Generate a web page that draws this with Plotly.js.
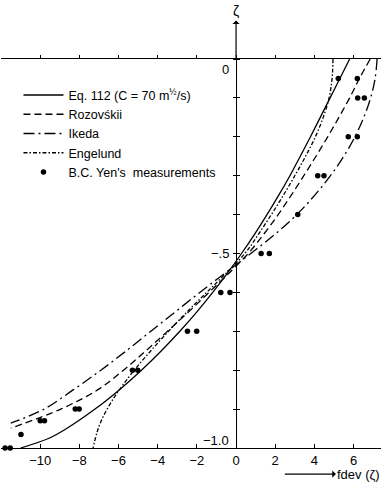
<!DOCTYPE html>
<html>
<head>
<meta charset="utf-8">
<script src="https://cdn.plot.ly/plotly-3.0.1.min.js"></script>
<style>html,body{margin:0;padding:0;background:#fff;}#chart{width:383px;height:484px;}</style>
</head>
<body>
<div id="chart"></div>
<script>
// ---- data ----
const eqZeta = [0, -0.05, -0.1, -0.15, -0.2, -0.25, -0.3, -0.35, -0.4, -0.45, -0.5, -0.55, -0.6, -0.65, -0.7, -0.75, -0.8, -0.85, -0.9, -0.95, -0.975, -1.0];
const eqX    = [5.8, 5.3, 4.8, 4.3, 3.8, 3.28, 2.75, 2.18, 1.58, 0.95, 0.28, -0.43, -1.19, -2.0, -2.87, -3.81, -4.83, -5.95, -7.2, -8.65, -9.55, -11.0];

const rozZeta = [0, -0.05, -0.1, -0.15, -0.2, -0.25, -0.3, -0.35, -0.4, -0.45, -0.5, -0.55, -0.6, -0.65, -0.7, -0.75, -0.8, -0.85, -0.9, -0.949];
const rozX    = [6.85, 6.3, 5.8, 5.25, 4.68, 4.08, 3.46, 2.82, 2.15, 1.42, 0.62, -0.35, -1.38, -2.42, -3.5, -4.6, -5.75, -7.05, -8.95, -11.5];

const ikeZeta = [0, -0.05, -0.1, -0.15, -0.2, -0.25, -0.3, -0.35, -0.4, -0.45, -0.5, -0.55, -0.6, -0.65, -0.7, -0.75, -0.8, -0.85, -0.9, -0.936];
const ikeX    = [7.2, 7.1, 6.87, 6.52, 6.07, 5.5, 4.82, 4.02, 3.1, 2.0, 0.75, -0.55, -1.85, -3.1, -4.35, -5.6, -6.9, -8.3, -9.8, -11.5];

const engZeta = [0, -0.03, -0.06, -0.1, -0.15, -0.2, -0.25, -0.3, -0.35, -0.4, -0.45, -0.5, -0.55, -0.6, -0.65, -0.7, -0.75, -0.8, -0.85, -0.87, -0.9, -0.93, -0.96, -1.0];
const engX    = [4.95, 4.93, 4.88, 4.75, 4.45, 4.05, 3.55, 3.0, 2.42, 1.8, 1.15, 0.45, -0.5, -1.5, -2.5, -3.45, -4.35, -5.2, -5.95, -6.22, -6.58, -6.88, -7.1, -7.3];

const measZeta = [-0.05, -0.05, -0.1, -0.1, -0.2, -0.2, -0.3, -0.3, -0.4, -0.5, -0.5, -0.6, -0.6, -0.7, -0.7, -0.8, -0.8, -0.9, -0.9, -0.93, -0.93, -0.965, -1.0, -1.0];
const measX    = [5.22, 6.19, 6.21, 6.55, 5.73, 6.19, 4.17, 4.49, 3.15, 1.28, 1.70, -0.78, -0.31, -2.48, -2.01, -5.29, -5.02, -8.21, -8.01, -10.0, -9.78, -10.98, -11.79, -11.53];

const seriesNames = ["Eq. 112 (C = 70 m<sup>½</sup>/s)", "Rozovśkii", "Ikeda", "Engelund", "B.C. Yen's  measurements"];
const xTickVals = [-10, -8, -6, -4, -2, 0, 2, 4, 6];
const yTickVals = [0, -0.1, -0.2, -0.3, -0.4, -0.5, -0.6, -0.7, -0.8, -0.9, -1.0];
const yLabelVals = [0, -0.5, -1.0];
const yLabelText = ["0", "\u2212.5", "\u22121.0"];
const xAxisLabel = "fdev (\u03B6)";
const yAxisLabel = "\u03B6";

// ---- styling ----
const FONT = "Liberation Sans, Arial, sans-serif";
const lw = 1.3;
const line = (dash) => ({color: "#000", width: lw, dash: dash, shape: "spline", smoothing: 1.0});

const traces = [
  {x: eqX, y: eqZeta, name: seriesNames[0], mode: "lines", line: line("solid")},
  {x: rozX, y: rozZeta, name: seriesNames[1], mode: "lines", line: line("7px,4px")},
  {x: ikeX, y: ikeZeta, name: seriesNames[2], mode: "lines", line: line("11px,4px,2px,4px")},
  {x: engX, y: engZeta, name: seriesNames[3], mode: "lines", line: line("4px,2px,1.5px,2px")},
  {x: measX, y: measZeta, name: seriesNames[4], mode: "markers", marker: {color: "#000", size: 5.5}, cliponaxis: false},
  {x: [], y: [], xaxis: "x2", yaxis: "y2", showlegend: false, mode: "lines"}
];

const xr = [-12.0, 7.4];
const yPos = (0 - xr[0]) / (xr[1] - xr[0]);

const annotations = [];
yLabelVals.forEach((v, i) => {
  annotations.push({
    x: 0, y: v, xref: "x", yref: "y", text: yLabelText[i], showarrow: false,
    xanchor: "right", yanchor: "middle", xshift: -5,
    yshift: v === 0 ? -10 : (v === -1 ? 8 : 0),
    font: {family: FONT, size: 13, color: "#000"}
  });
});
// vertical axis extension, arrow pointing up to the zeta label
annotations.push({x: 0, y: 0, xref: "x", yref: "y", ax: 0, ay: -48, axref: "pixel", ayref: "pixel",
  text: yAxisLabel, showarrow: true, arrowside: "start", arrowhead: 2, arrowsize: 1.2, arrowwidth: 1.2,
  arrowcolor: "#000", standoff: 0, startstandoff: 0, font: {family: FONT, size: 14, color: "#000"}});
// x axis label with arrow pointing to it
annotations.push({x: 0.747, y: -0.067, xref: "paper", yref: "paper", ax: 74, ay: 0,
  text: xAxisLabel, showarrow: true, arrowside: "start", arrowhead: 2, arrowsize: 1.3, arrowwidth: 1.2,
  arrowcolor: "#000", font: {family: FONT, size: 13, color: "#000"}});

const layout = {
  width: 383, height: 484,
  margin: {l: 1, r: 2, t: 59, b: 36},
  paper_bgcolor: "#fff", plot_bgcolor: "#fff",
  font: {family: FONT, size: 13, color: "#000"},
  showlegend: true,
  legend: {x: 0.046, y: 0.945, xanchor: "left", yanchor: "top", bgcolor: "rgba(0,0,0,0)",
           font: {family: FONT, size: 12.5, color: "#000"}, itemwidth: 40, tracegroupgap: 0},
  xaxis: {range: xr, showgrid: false, zeroline: false, showline: true, linecolor: "#000", linewidth: 1,
          tickvals: xTickVals, ticks: "inside", ticklen: 4, tickcolor: "#000",
          tickfont: {family: FONT, size: 13, color: "#000"}, ticklabelstandoff: 0},
  xaxis2: {range: xr, overlaying: "x", side: "top", anchor: "y", showgrid: false, zeroline: false,
           showline: true, linecolor: "#000", linewidth: 1, tickvals: xTickVals, ticks: "outside",
           ticklen: 3, tickcolor: "#000", showticklabels: false},
  yaxis: {range: [-1.0, 0], showgrid: false, zeroline: false, showline: true, linecolor: "#000", linewidth: 1,
          anchor: "free", position: yPos, side: "left", tickvals: yTickVals, ticks: "outside", ticklen: 3,
          tickcolor: "#000", showticklabels: false},
  yaxis2: {range: [-1.0, 0], overlaying: "y", anchor: "free", position: yPos, side: "right",
           showgrid: false, zeroline: false, showline: false, tickvals: yTickVals, ticks: "outside",
           ticklen: 3, tickcolor: "#000", showticklabels: false},
  annotations: annotations
};

Plotly.newPlot("chart", traces, layout, {displayModeBar: false, staticPlot: true});
</script>
</body>
</html>
